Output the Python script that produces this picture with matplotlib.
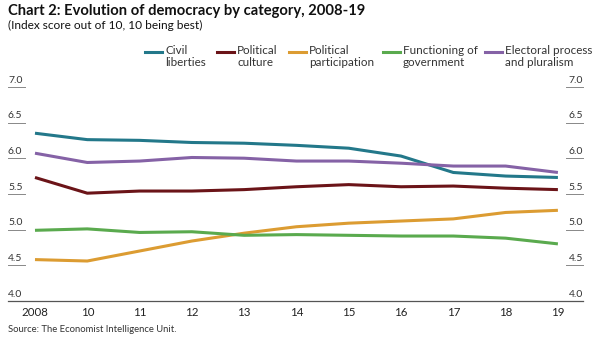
import matplotlib
matplotlib.use("Agg")
import matplotlib.pyplot as plt
from matplotlib.lines import Line2D

plt.rcParams['font.family'] = ['Lato', 'DejaVu Sans']

years = ["2008", "10", "11", "12", "13", "14", "15", "16", "17", "18", "19"]
civil_liberties = [6.35, 6.26, 6.25, 6.22, 6.21, 6.18, 6.14, 6.03, 5.80, 5.75, 5.73]
political_culture = [5.73, 5.51, 5.54, 5.54, 5.56, 5.60, 5.63, 5.60, 5.61, 5.58, 5.56]
political_participation = [4.58, 4.56, 4.70, 4.84, 4.95, 5.04, 5.09, 5.12, 5.15, 5.24, 5.27]
functioning_gov = [4.99, 5.01, 4.96, 4.97, 4.92, 4.93, 4.92, 4.91, 4.91, 4.88, 4.80]
electoral_process = [6.07, 5.94, 5.96, 6.01, 6.00, 5.96, 5.96, 5.93, 5.89, 5.89, 5.80]
y_ticks = [4.0, 4.5, 5.0, 5.5, 6.0, 6.5, 7.0]

series = [
    ("Civil\nliberties", civil_liberties, "#23788a"),
    ("Political\nculture", political_culture, "#6b1418"),
    ("Political\nparticipation", political_participation, "#dc9c32"),
    ("Functioning of\ngovernment", functioning_gov, "#5aaa4e"),
    ("Electoral process\nand pluralism", electoral_process, "#8562a6"),
]

W, H = 594, 340
fig = plt.figure(figsize=(W / 100, H / 100), dpi=100)
ax = fig.add_axes([8 / W, (H - 301) / H, 575 / W, (301 - 86.8) / H])

x = list(range(len(years)))
for name, vals, col in series:
    ax.plot(x, vals, color=col, lw=2.2, solid_capstyle='butt')

ax.set_ylim(4, 7)
ax.set_xlim(-0.516, 10.48)
for s in ["top", "left", "right"]:
    ax.spines[s].set_visible(False)
ax.spines["bottom"].set_color("#555555")
ax.spines["bottom"].set_linewidth(0.9)
ax.set_yticks([])
ax.set_xticks(x)
ax.set_xticklabels(years, fontsize=8.3, color="#222222")
ax.tick_params(axis='x', length=0, pad=4)

# y labels sitting on short stubs, both sides
tr = ax.get_yaxis_transform()
for t in y_ticks:
    if t > 4.0:
        ax.plot([0, 0.03], [t, t], transform=tr, color="#888888", lw=0.7, clip_on=False)
        ax.plot([0.97, 1.0], [t, t], transform=tr, color="#888888", lw=0.7, clip_on=False)
    ax.text(0.0, t + 0.03, f"{t:.1f}", transform=tr, ha='left', va='bottom',
            fontsize=7.5, color="#333333")
    ax.text(1.0, t + 0.03, f"{t:.1f}", transform=tr, ha='right', va='bottom',
            fontsize=7.5, color="#333333")

# legend
leg_x = [145, 217, 289, 383, 485]
for (name, vals, col), lx in zip(series, leg_x):
    fig.add_artist(Line2D([lx / W, (lx + 17) / W], [(H - 51.5) / H] * 2,
                          color=col, lw=2.2, transform=fig.transFigure))
    fig.text((lx + 20) / W, (H - 44.5) / H, name, ha='left', va='top',
             fontsize=8.4, color="#333333", linespacing=1.15)

fig.text(8 / W, (H - 4) / H, "Chart 2: Evolution of democracy by category, 2008-19",
         ha='left', va='top', fontsize=10.6, fontweight='bold', color="#111111")
fig.text(8 / W, (H - 20) / H, "(Index score out of 10, 10 being best)",
         ha='left', va='top', fontsize=8.6, color="#111111")
fig.text(8 / W, (H - 325.5) / H, "Source: The Economist Intelligence Unit.",
         ha='left', va='top', fontsize=6.8, color="#333333")

fig.savefig("out.png", dpi=100)
